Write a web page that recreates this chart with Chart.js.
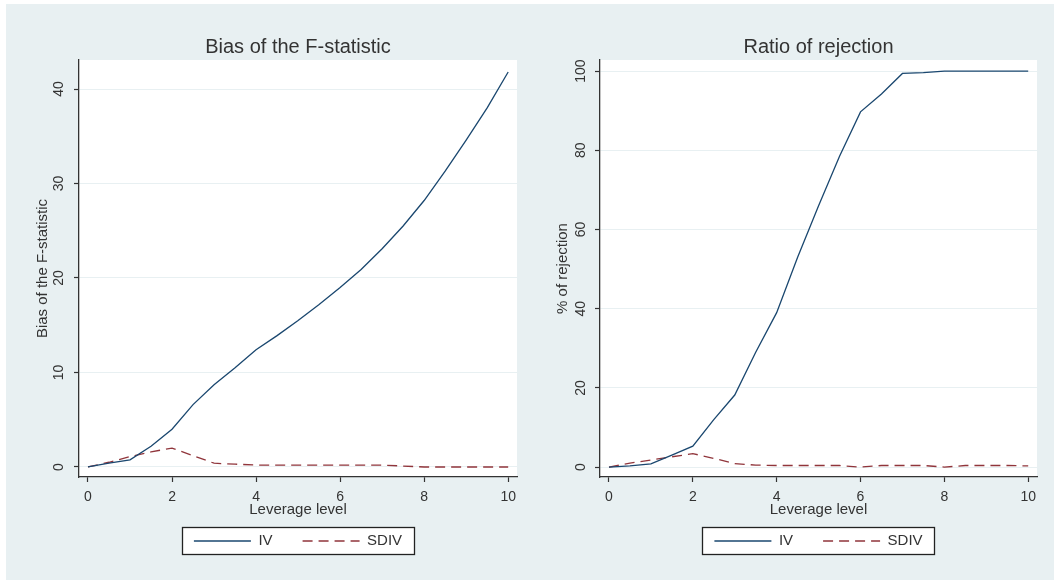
<!DOCTYPE html>
<html><head><meta charset="utf-8">
<script src="https://cdn.jsdelivr.net/npm/chart.js@4/dist/chart.umd.min.js"></script>
<style>
html,body{margin:0;padding:0;background:#fff;width:1061px;height:582px;overflow:hidden}
#bg{position:absolute;left:6px;top:4px;width:1048px;height:576px;background:#e8f0f2}
canvas{position:absolute;top:0}
</style></head><body>
<div id="bg"></div>
<canvas id="c1" width="530" height="582" style="left:0"></canvas>
<canvas id="c2" width="531" height="582" style="left:530px"></canvas>
<script>
// ---- data ----
const leverage = [0,0.5,1,1.5,2,2.5,3,3.5,4,4.5,5,5.5,6,6.5,7,7.5,8,8.5,9,9.5,10];
const biasIV   = [0,0.4,0.75,2.2,4.0,6.6,8.7,10.5,12.4,13.9,15.5,17.2,19.0,20.9,23.1,25.5,28.2,31.3,34.6,38.0,41.8];
const biasSDIV = [0,0.5,1.1,1.6,2.0,1.2,0.4,0.3,0.2,0.2,0.2,0.2,0.2,0.2,0.2,0.1,0.0,0.0,0.0,0.0,0.0];
const rejIV    = [0,0.3,0.8,3.0,5.3,12.0,18.2,29.0,39.0,53.0,66.0,78.5,89.7,94.2,99.4,99.6,100,100,100,100,100];
const rejSDIV  = [0,1.0,1.8,2.6,3.4,2.2,0.9,0.5,0.4,0.4,0.4,0.4,0.0,0.4,0.4,0.4,0.0,0.4,0.4,0.4,0.3];
const xTicks = [0,2,4,6,8,10];
const biasTicks = [0,10,20,30,40];
const rejTicks = [0,20,40,60,80,100];
const seriesNames = ['IV','SDIV'];

const FONT = '"Liberation Sans", Arial, sans-serif';
const TXT = '#333';
const NAVY = '#1a476f';
const MAROON = '#90353b';

const frame = {
  id: 'frame',
  afterLayout(chart) {
    const ca = chart.chartArea;
    for (const b of [chart.legend, chart.titleBlock]) {
      if (b) { b.left = ca.left; b.right = ca.right; b.width = ca.right - ca.left; }
    }
  },
  beforeDraw(chart) {
    const {ctx, chartArea: ca} = chart;
    ctx.save();
    ctx.fillStyle = '#fff';
    ctx.fillRect(ca.left, ca.top, ca.right - ca.left, ca.bottom - ca.top);
    const lg = chart.legend;
    const lo = lg.options.labels;
    const fs = lo.font.size;
    ctx.font = fs + 'px ' + FONT;
    let block = 0;
    lg.legendItems.forEach((it, i) => {
      block += lo.pointStyleWidth + fs / 2 + ctx.measureText(it.text).width;
      if (i > 0) block += lo.padding;
    });
    const cx = (ca.left + ca.right) / 2;
    const cy = lg.top + lo.padding + fs / 2;
    const bx = Math.round(cx - block / 2 - 12) + 0.5;
    const bw = Math.round(block + 24);
    const by = Math.round(cy - 14) + 0.5;
    ctx.fillStyle = '#fff';
    ctx.fillRect(bx, by, bw, 27);
    ctx.strokeStyle = '#222';
    ctx.lineWidth = 1.3;
    ctx.strokeRect(bx, by, bw, 27);
    ctx.restore();
  }
};

function legendLabels(chart) {
  const items = Chart.defaults.plugins.legend.labels.generateLabels(chart);
  items.forEach((it, i) => {
    const d = chart.data.datasets[it.datasetIndex ?? i];
    it.lineDash = d.borderDash || [];
    it.strokeStyle = d.borderColor;
    it.lineWidth = d.borderWidth;
    it.pointStyle = 'line';
  });
  return items;
}

function makeChart(id, cfg) {
  const ds = [
    {label: seriesNames[0], data: leverage.map((x, i) => ({x, y: cfg.iv[i]})),
     borderColor: NAVY, borderWidth: 1.3, pointRadius: 0, tension: 0, fill: false},
    {label: seriesNames[1], data: leverage.map((x, i) => ({x, y: cfg.sdiv[i]})),
     borderColor: MAROON, borderWidth: 1.3, borderDash: [10, 6], pointRadius: 0, tension: 0, fill: false}
  ];
  return new Chart(document.getElementById(id), {
    type: 'line',
    data: {datasets: ds},
    options: {
      responsive: false, animation: false, devicePixelRatio: 1,
      layout: {padding: {left: cfg.padL, right: cfg.padR, top: 35, bottom: 23.5}},
      plugins: {
        tooltip: {enabled: false},
        title: {display: true, text: cfg.title, color: TXT,
                font: {family: FONT, size: 20, weight: 'normal'}, padding: {top: 0, bottom: 1}},
        legend: {position: 'bottom', align: 'center',
          labels: {usePointStyle: true, pointStyle: 'line', pointStyleWidth: 57,
                   padding: 30, color: TXT, font: {family: FONT, size: 15},
                   generateLabels: legendLabels}}
      },
      scales: {
        x: {type: 'linear', min: -0.214, max: 10.21,
          afterBuildTicks: s => { s.ticks = xTicks.map(v => ({value: v})); },
          afterFit: s => { s.height = 26.5; },
          ticks: {color: TXT, font: {family: FONT, size: 14}, padding: 7, maxRotation: 0, autoSkip: false},
          grid: {drawOnChartArea: false, tickLength: 5, tickColor: '#333', tickWidth: 1.2},
          border: {color: '#333', width: 1.3},
          title: {display: true, text: 'Leverage level', color: TXT,
                  font: {family: FONT, size: 15}, padding: {top: 0, bottom: -15.5}}
        },
        y: {type: 'linear', min: cfg.ymin, max: cfg.ymax,
          afterBuildTicks: s => { s.ticks = cfg.yTicks.map(v => ({value: v})); },
          afterFit: s => { s.width = cfg.yW; },
          ticks: {color: TXT, font: {family: FONT, size: 14}, padding: cfg.tickPad,
                  minRotation: 90, maxRotation: 90, crossAlign: 'center', autoSkip: false},
          grid: {color: '#e8f0f2', lineWidth: 1, tickLength: 5, tickColor: '#333', tickWidth: 1.2},
          border: {color: '#333', width: 1.3},
          title: {display: true, text: cfg.ytitle, color: TXT,
                  font: {family: FONT, size: 15}, padding: {top: 0, bottom: 0}}
        }
      }
    },
    plugins: [frame]
  });
}

makeChart('c1', {title: 'Bias of the F-statistic', ytitle: 'Bias of the F-statistic',
  iv: biasIV, sdiv: biasSDIV, ymin: -1.06, ymax: 43.07, yTicks: biasTicks,
  padL: 34, padR: 13, yW: 45, tickPad: 7});
makeChart('c2', {title: 'Ratio of rejection', ytitle: '% of rejection',
  iv: rejIV, sdiv: rejSDIV, ymin: -2.5, ymax: 102.8, yTicks: rejTicks,
  padL: 24, padR: 24, yW: 46, tickPad: 2.5});
</script>
</body></html>
